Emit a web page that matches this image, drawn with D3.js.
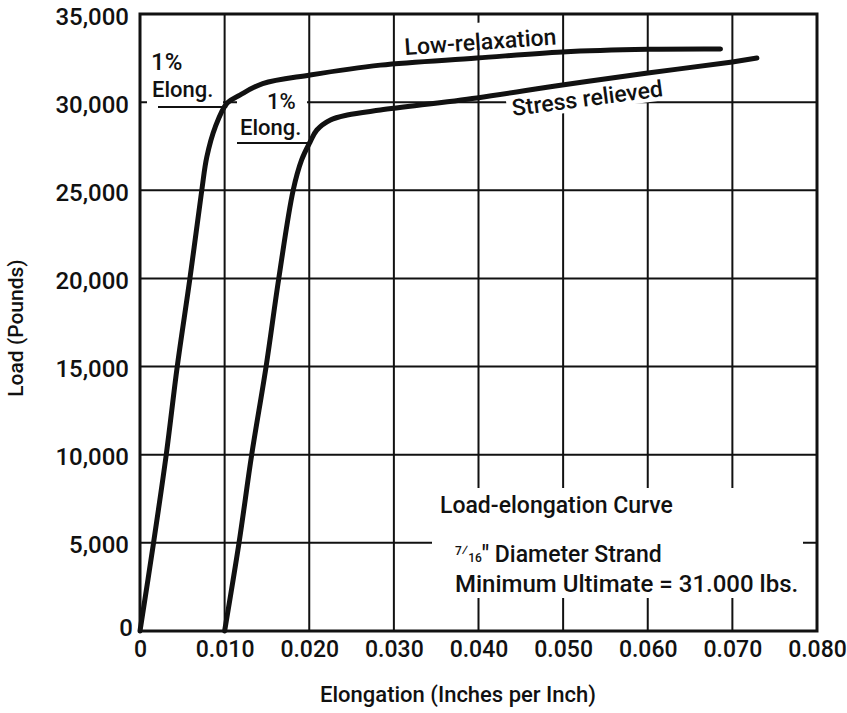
<!DOCTYPE html>
<html>
<head>
<meta charset="utf-8">
<script src="https://cdn.jsdelivr.net/npm/d3@7"></script>
<style>
body { margin: 0; background: #fff; }
text { font-family: Roboto, "Liberation Sans", Arial, sans-serif; font-weight: 500; fill: #111; }
</style>
</head>
<body>
<div id="chart"></div>
<script>
// Low-relaxation strand, elongation (in/in) vs load (lb)
var lowRelaxElong = [0, 0.0016, 0.0031, 0.0044, 0.0059, 0.0073, 0.0079, 0.0089, 0.0103, 0.0118, 0.0145, 0.0201, 0.0284, 0.0398, 0.0499, 0.0600, 0.0686];
var lowRelaxLoad  = [0, 5000, 10000, 15000, 20000, 25000, 26900, 28600, 29950, 30400, 31050, 31540, 32100, 32500, 32850, 33000, 33020];

// Stress-relieved strand
var stressElong = [0.0100, 0.0117, 0.0132, 0.0149, 0.0164, 0.0181, 0.0191, 0.0201, 0.0209, 0.0225, 0.0245, 0.0284, 0.0398, 0.0499, 0.0600, 0.0700, 0.0729];
var stressLoad  = [0, 5000, 10000, 15000, 20000, 25000, 26720, 27740, 28420, 28990, 29270, 29550, 30240, 30970, 31650, 32280, 32500];

var xTicks = [0, 0.01, 0.02, 0.03, 0.04, 0.05, 0.06, 0.07, 0.08];
var xTickLabels = ["0", "0.010", "0.020", "0.030", "0.040", "0.050", "0.060", "0.070", "0.080"];
var yTicks = [0, 5000, 10000, 15000, 20000, 25000, 30000, 35000];
var yTickLabels = ["0", "5,000", "10,000", "15,000", "20,000", "25,000", "30,000", "35,000"];

var W = 847, H = 713;
var plot = { left: 140, right: 817, top: 14, bottom: 631 };

var x = d3.scaleLinear().domain([0, 0.08]).range([plot.left, plot.right]);
var y = d3.scaleLinear().domain([0, 35000]).range([plot.bottom, plot.top]);

var svg = d3.select("#chart").append("svg")
    .attr("width", W)
    .attr("height", H);

// grid
var grid = svg.append("g").attr("class", "grid");
grid.selectAll(".vgrid")
    .data(xTicks.slice(1, -1))
    .enter().append("line")
    .attr("x1", function(d) { return x(d); })
    .attr("x2", function(d) { return x(d); })
    .attr("y1", plot.top)
    .attr("y2", plot.bottom)
    .style("stroke", "#111")
    .style("stroke-width", 2);
grid.selectAll(".hgrid")
    .data(yTicks.slice(1, -1))
    .enter().append("line")
    .attr("x1", plot.left)
    .attr("x2", plot.right)
    .attr("y1", function(d) { return y(d); })
    .attr("y2", function(d) { return y(d); })
    .style("stroke", "#111")
    .style("stroke-width", 2);

// white patches where the labels interrupt the grid
function blank(x0, y0, w, h, rot) {
    svg.append("rect")
        .attr("x", x0).attr("y", y0)
        .attr("width", w).attr("height", h)
        .attr("transform", rot ? "rotate(" + rot[0] + "," + rot[1] + "," + rot[2] + ")" : null)
        .style("fill", "#fff");
}
blank(147, 44, 76, 62);
blank(237, 92, 70, 48);
blank(402, 28, 160, 26, [-4, 405, 55]);
blank(508, 92, 162, 28, [-7.5, 513, 116]);
blank(432, 488, 371, 110);

// curves
var line = d3.line()
    .x(function(d) { return x(d[0]); })
    .y(function(d) { return y(d[1]); })
    .curve(d3.curveCatmullRom.alpha(0.5));

var lowPts = lowRelaxElong.map(function(e, i) { return [e, lowRelaxLoad[i]]; });
var stressPts = stressElong.map(function(e, i) { return [e, stressLoad[i]]; });

[lowPts, stressPts].forEach(function(pts) {
    svg.append("path")
        .attr("d", line(pts))
        .style("fill", "none")
        .style("stroke", "#111")
        .style("stroke-width", 5)
        .style("stroke-linejoin", "round")
        .style("stroke-linecap", "round");
});

// frame
svg.append("rect")
    .attr("x", plot.left).attr("y", plot.top)
    .attr("width", plot.right - plot.left)
    .attr("height", plot.bottom - plot.top)
    .style("fill", "none")
    .style("stroke", "#111")
    .style("stroke-width", 3);

// axes (labels only)
var xAxis = svg.append("g")
    .attr("transform", "translate(0," + plot.bottom + ")")
    .call(d3.axisBottom(x).tickValues(xTicks).tickSize(0)
        .tickFormat(function(d, i) { return xTickLabels[i]; }));
xAxis.select(".domain").remove();
xAxis.selectAll("text")
    .attr("y", 26)
    .attr("dy", 0)
    .style("font-size", "23px")
    .style("font-family", "Roboto, sans-serif")
    .style("font-weight", 500)
    .style("fill", "#111");

var yAxis = svg.append("g")
    .attr("transform", "translate(" + plot.left + ",0)")
    .call(d3.axisLeft(y).tickValues(yTicks).tickSize(0)
        .tickFormat(function(d, i) { return yTickLabels[i]; }));
yAxis.select(".domain").remove();
yAxis.selectAll("text")
    .attr("x", function(d) { return d === 0 ? -7 : -11; })
    .attr("dy", function(d) { return d === 0 ? "0.2em" : "0.42em"; })
    .style("font-size", "24px")
    .style("font-family", "Roboto, sans-serif")
    .style("font-weight", 500)
    .style("fill", "#111");

// axis titles
svg.append("text")
    .attr("x", 458)
    .attr("y", 702)
    .attr("text-anchor", "middle")
    .style("font-size", "22px")
    .text("Elongation (Inches per Inch)");

svg.append("text")
    .attr("transform", "translate(23,328) rotate(-90)")
    .attr("text-anchor", "middle")
    .style("font-size", "21px")
    .text("Load (Pounds)");

// 1% elongation markers
svg.append("text").attr("x", 151).attr("y", 70).style("font-size", "24px").text("1%");
svg.append("text").attr("x", 152).attr("y", 97).style("font-size", "22px").text("Elong.");
svg.append("line")
    .attr("x1", 158).attr("x2", x(0.0103))
    .attr("y1", 107).attr("y2", 107)
    .style("stroke", "#111").style("stroke-width", 2);

svg.append("text").attr("x", 267).attr("y", 109).style("font-size", "22px").text("1%");
svg.append("text").attr("x", 240).attr("y", 135).style("font-size", "22px").text("Elong.");
svg.append("line")
    .attr("x1", 237).attr("x2", x(0.0201))
    .attr("y1", 143).attr("y2", 143)
    .style("stroke", "#111").style("stroke-width", 2);

// curve names
svg.append("text")
    .attr("transform", "translate(405,55) rotate(-4)")
    .style("font-size", "23px")
    .text("Low-relaxation");
svg.append("text")
    .attr("transform", "translate(513,116) rotate(-7.5)")
    .style("font-size", "23px")
    .text("Stress relieved");

// caption
svg.append("text").attr("x", 440).attr("y", 513).style("font-size", "23px").text("Load-elongation Curve");
var strand = svg.append("text").attr("x", 455).attr("y", 562).style("font-size", "23px");
strand.append("tspan").attr("dy", -7).style("font-size", "12px").text("7");
strand.append("tspan").attr("dy", 0).style("font-size", "14px").text("\u2044");
strand.append("tspan").attr("dy", 7).style("font-size", "12px").text("16");
strand.append("tspan").text("\u2033 Diameter Strand");
svg.append("text").attr("x", 455).attr("y", 592).style("font-size", "24px").text("Minimum Ultimate = 31.000 lbs.");
</script>
</body>
</html>
